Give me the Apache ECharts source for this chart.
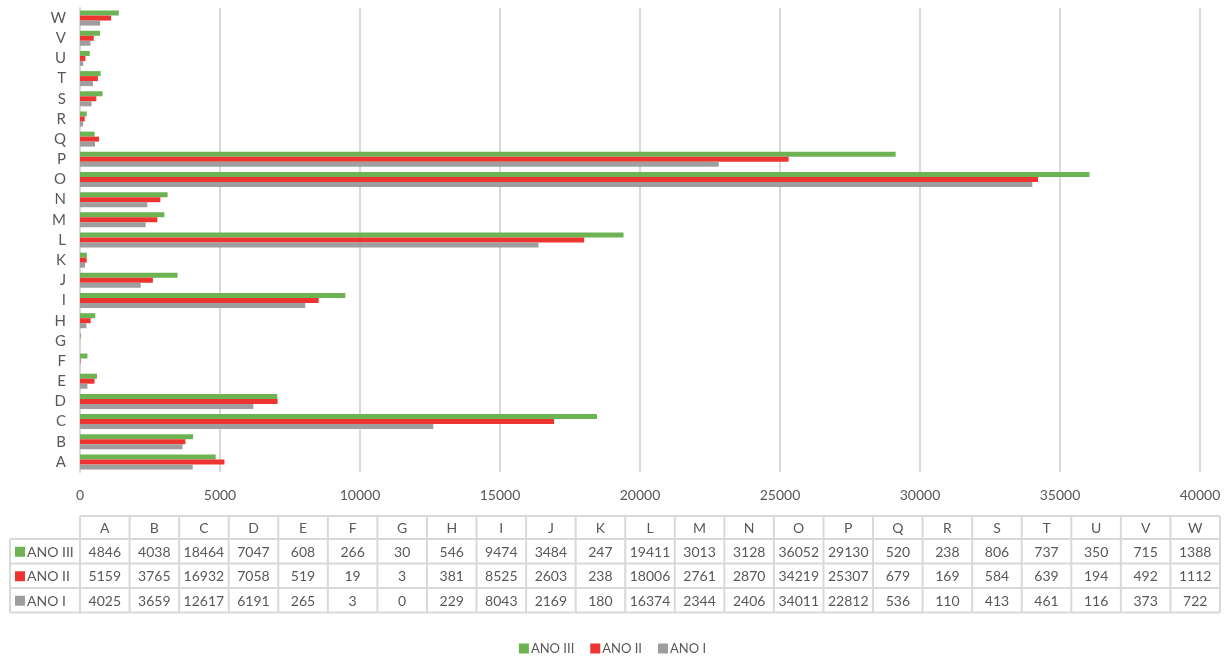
<!DOCTYPE html>
<html>
<head>
<meta charset="utf-8">
<script src="https://cdn.jsdelivr.net/npm/echarts@6/dist/echarts.min.js"></script>
<style>
  html, body { margin: 0; padding: 0; background: #ffffff; }
  #chart { width: 1225px; height: 657px; }
</style>
</head>
<body>
<div id="chart"></div>
<script>
// Categories and yearly values
const categories = ['A','B','C','D','E','F','G','H','I','J','K','L','M','N','O','P','Q','R','S','T','U','V','W'];
const anoIII = [4846, 4038, 18464, 7047, 608, 266, 30, 546, 9474, 3484, 247, 19411, 3013, 3128, 36052, 29130, 520, 238, 806, 737, 350, 715, 1388];
const anoII  = [5159, 3765, 16932, 7058, 519, 19, 3, 381, 8525, 2603, 238, 18006, 2761, 2870, 34219, 25307, 679, 169, 584, 639, 194, 492, 1112];
const anoI   = [4025, 3659, 12617, 6191, 265, 3, 0, 229, 8043, 2169, 180, 16374, 2344, 2406, 34011, 22812, 536, 110, 413, 461, 116, 373, 722];
const seriesNames = ['ANO III', 'ANO II', 'ANO I'];
const seriesValues = [anoIII, anoII, anoI];
const xMax = 40000;
const xStep = 5000;

const COLORS = { 'ANO III': '#6DB354', 'ANO II': '#EE3431', 'ANO I': '#9E9E9E' };
const TEXT = '#595959';
const LINE = '#D9D9D9';
const FONT = 'Lato, "Open Sans", sans-serif';

// Data table under the plot
const tbl = { left: 80, right: 1220, labelLeft: 10, top: 516, headH: 23, rowH: 24.5 };
const colW = (tbl.right - tbl.left) / categories.length;
const graphics = [];
const nRows = seriesNames.length;
const bottom = tbl.top + tbl.headH + nRows * tbl.rowH;

// header row border
graphics.push({ type: 'line', shape: { x1: tbl.left, y1: tbl.top, x2: tbl.right, y2: tbl.top }, style: { stroke: LINE, lineWidth: 2 } });
// row borders
for (let r = 0; r <= nRows; r++) {
  const y = tbl.top + tbl.headH + r * tbl.rowH;
  graphics.push({ type: 'line', shape: { x1: tbl.labelLeft, y1: y, x2: tbl.right, y2: y }, style: { stroke: LINE, lineWidth: 2 } });
}
// vertical borders
graphics.push({ type: 'line', shape: { x1: tbl.labelLeft, y1: tbl.top + tbl.headH, x2: tbl.labelLeft, y2: bottom }, style: { stroke: LINE, lineWidth: 2 } });
for (let c = 0; c <= categories.length; c++) {
  const x = tbl.left + c * colW;
  graphics.push({ type: 'line', shape: { x1: x, y1: tbl.top, x2: x, y2: bottom }, style: { stroke: LINE, lineWidth: 2 } });
}
// header text
categories.forEach((cat, c) => {
  graphics.push({ type: 'text', style: { text: cat, x: tbl.left + (c + 0.5) * colW, y: tbl.top + tbl.headH / 2 + 1, textAlign: 'center', textVerticalAlign: 'middle', font: '14px ' + FONT, fill: TEXT } });
});
// body rows
seriesNames.forEach((name, r) => {
  const yc = tbl.top + tbl.headH + (r + 0.5) * tbl.rowH + 1;
  graphics.push({ type: 'rect', shape: { x: 15, y: yc - 5.5, width: 10, height: 10 }, style: { fill: COLORS[name] } });
  graphics.push({ type: 'text', style: { text: name, x: 27, y: yc, textAlign: 'left', textVerticalAlign: 'middle', font: '14px ' + FONT, fill: TEXT } });
  seriesValues[r].forEach((v, c) => {
    graphics.push({ type: 'text', style: { text: String(v), x: tbl.left + (c + 0.5) * colW, y: yc, textAlign: 'center', textVerticalAlign: 'middle', font: '14px ' + FONT, fill: TEXT } });
  });
});

const chart = echarts.init(document.getElementById('chart'), null, { renderer: 'canvas' });
chart.setOption({
  backgroundColor: '#ffffff',
  animation: false,
  textStyle: { fontFamily: FONT },
  grid: { left: 80, right: 25, top: 8, bottom: 185, containLabel: false },
  legend: {
    data: seriesNames,
    bottom: -3,
    left: 'center',
    itemWidth: 10,
    itemHeight: 10,
    itemGap: 16,
    icon: 'rect',
    textStyle: { color: TEXT, fontSize: 13, fontFamily: FONT, padding: [0, 0, 0, -3] }
  },
  xAxis: {
    type: 'value',
    min: 0,
    max: xMax,
    interval: xStep,
    axisLine: { show: false },
    axisTick: { show: false },
    axisLabel: { color: TEXT, fontSize: 14, fontFamily: FONT, margin: 16, formatter: v => String(v) },
    splitLine: { show: true, lineStyle: { color: LINE, width: 2 } }
  },
  yAxis: {
    type: 'category',
    data: categories,
    axisLine: { show: true, lineStyle: { color: LINE, width: 2 } },
    axisTick: { show: false },
    axisLabel: { color: TEXT, fontSize: 15, fontFamily: FONT, margin: 14 }
  },
  series: seriesNames.map((name, i) => ({
    name: name,
    type: 'bar',
    data: seriesValues[i],
    barWidth: 5,
    barGap: '0%',
    itemStyle: { color: COLORS[name] }
  })),
  graphic: graphics
});
</script>
</body>
</html>
